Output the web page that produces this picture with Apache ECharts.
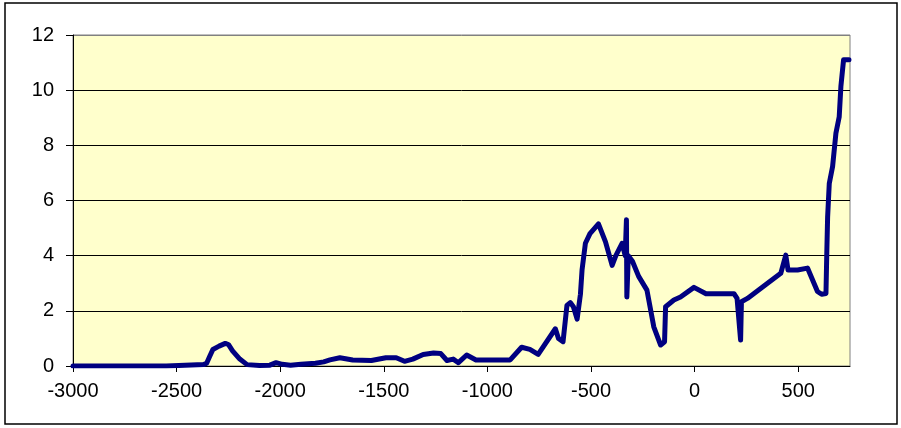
<!DOCTYPE html>
<html>
<head>
<meta charset="utf-8">
<script src="https://cdn.jsdelivr.net/npm/echarts@6/dist/echarts.min.js"></script>
<style>
  html, body { margin: 0; padding: 0; background: #fff; }
  #chart { width: 901px; height: 428px; }
</style>
</head>
<body>
<div id="chart"></div>
<script>
// years (x) and values (y)
const years = [
  -3000, -2550, -2545, -2370, -2355, -2340, -2325, -2295, -2265, -2250, -2230, -2195, -2160, -2100,
  -2050, -2020, -1990, -1950, -1900, -1830, -1790, -1760, -1712, -1650, -1560, -1490, -1440, -1400,
  -1360, -1310, -1260, -1225, -1195, -1165, -1140, -1100, -1055, -890, -835, -795, -755, -672,
  -657, -635, -616, -600, -585, -567, -551, -543, -527, -505, -464, -430, -398, -380, -350, -335,
  -329, -327, -320, -300, -270, -230, -197, -164, -145, -140, -100, -68, -3, 55, 190, 205,
  222, 226, 255, 352, 416, 440, 451, 497, 545, 593, 613, 634, 638, 642, 650, 666, 682, 698, 706, 719, 745
];
const values = [
  0, 0, 0.05, 0.05, 0.1, 0.35, 0.6, 0.72, 0.82, 0.78, 0.55, 0.25, 0.05, 0.02,
  0.03, 0.12, 0.06, 0.03, 0.06, 0.1, 0.15, 0.22, 0.3, 0.22, 0.2, 0.3, 0.3, 0.17,
  0.25, 0.42, 0.47, 0.45, 0.2, 0.25, 0.12, 0.4, 0.22, 0.22, 0.68, 0.6, 0.42, 1.35,
  1.0, 0.88, 2.2, 2.3, 2.15, 1.7, 2.6, 3.5, 4.45, 4.8, 5.15, 4.5, 3.65, 4.0, 4.45, 4.0,
  5.3, 2.5, 4.0, 3.8, 3.25, 2.75, 1.42, 0.76, 0.88, 2.15, 2.39, 2.5, 2.85, 2.62, 2.62, 2.45,
  0.94, 2.33, 2.45, 3.0, 3.36, 4.02, 3.48, 3.48, 3.55, 2.7, 2.6, 2.63, 4.1, 5.41, 6.62, 7.23, 8.44, 9.04, 10.13, 11.1, 11.1
];

const colors = {
  plotBg: '#FFFFCC',
  line: '#000080',
  border: '#808080',
};
const labelFont = { color: '#000', fontFamily: 'Liberation Sans, Arial, sans-serif', fontSize: 20 };

const option = {
  animation: false,
  backgroundColor: '#fff',
  grid: {
    left: 73, right: 51, top: 35, bottom: 62,
    show: true,
    backgroundColor: colors.plotBg,
    borderColor: colors.border,
    borderWidth: 1,
  },
  graphic: [{
    type: 'rect',
    shape: { x: 5, y: 3, width: 892, height: 421 },
    style: { fill: 'none', stroke: '#000', lineWidth: 1.5 },
    silent: true,
  }],
  xAxis: {
    type: 'value',
    min: -3000, max: 750, interval: 500,
    axisLine: { show: true, onZero: false, lineStyle: { color: '#000', width: 1 } },
    axisTick: { show: true, length: 6, lineStyle: { color: '#000' } },
    axisLabel: { ...labelFont, margin: 15, showMaxLabel: false, formatter: v => String(v) },
    splitLine: { show: false },
  },
  yAxis: {
    type: 'value',
    min: 0, max: 12, interval: 2,
    axisLine: { show: true, onZero: false, lineStyle: { color: '#000', width: 1 } },
    axisTick: { show: true, length: 7, lineStyle: { color: '#000' } },
    axisLabel: { ...labelFont, margin: 19 },
    splitLine: {
      show: true,
      lineStyle: { color: ['#000', '#000', '#000', '#000', '#000', '#000', colors.border], width: 1 },
    },
  },
  series: [{
    type: 'line',
    data: years.map((y, i) => [y, values[i]]),
    showSymbol: false,
    lineStyle: { color: colors.line, width: 5, join: 'round', cap: 'round' },
    z: 5,
  }],
};

const myChart = echarts.init(document.getElementById('chart'), null, { renderer: 'canvas' });
myChart.setOption(option);
</script>
</body>
</html>
